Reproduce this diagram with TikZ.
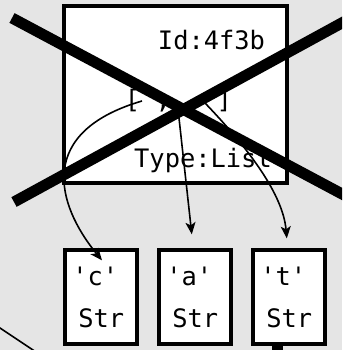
\documentclass[tikz,border=0pt]{standalone}
\usepackage{fontspec}
\setmonofont{DejaVu Sans Mono}
\usetikzlibrary{positioning, arrows.meta, calc}
\definecolor{canvasgray}{HTML}{E5E5E5}

\begin{document}
\begin{tikzpicture}[
  x=1pt, y=-1pt,
  font=\ttfamily\fontsize{25.4}{30}\selectfont,
  objbox/.style={rectangle, draw=black, line width=4pt, fill=white, inner sep=0pt},
  strbox/.style={objbox, minimum width=72pt, minimum height=93.7pt},
  txt/.style={anchor=base, inner sep=0pt},
  ref/.style={-{Stealth[length=12pt, width=10pt, inset=3pt]}, line width=1.6pt},
  cross/.style={line width=11pt, line cap=butt}
]
\useasboundingbox (0,0) rectangle (342,350);
\fill[canvasgray] (0,0) rectangle (342,350);
\clip (0,0) rectangle (342,350);
% list object
\node[objbox, minimum width=223pt, minimum height=176.7pt] (list) at (175.2,94.6) {};
\node[txt] (id) at (211.5,50) {Id:4f3b};
\node[txt] (items) at (178.5,108) {[ , , ]};
\node[txt] (type) at (203,167) {Type:List};
\coordinate (slot1) at (142,101);
\coordinate (slot2) at (178,109);
\coordinate (slot3) at (205,103);
% string objects
\node[strbox] (c) at (101.3,297.2) {};
\node[strbox, right=18pt of c] (a) {};
\node[strbox, right=18pt of a] (t) {};
\foreach \n in {c, a, t} {
  \node[txt] (\n-val) at ($(\n.center)+(-6,-12.2)$) {'\n'};
  \node[txt] (\n-type) at ($(\n.center)+(0,29.8)$) {Str};
}
% references
\draw[ref] (slot1) .. controls (36,132) and (56,204) .. ($(c.north)+(0.7,12)$);
\draw[ref] (slot2) -- ($(a.north)+(-3.5,-14)$);
\draw[ref] (slot3) .. controls (250,150) and (283,195) .. ($(t.north)+(-2.5,-10)$);
% crossed out
\coordinate (xa) at (12,18);
\coordinate (xb) at (350,198.2);
\coordinate (xc) at (14,202);
\coordinate (xd) at (350,18.5);
\draw[cross] (xa) -- (xb);
\draw[cross] (xc) -- (xd);
% cut-off parts
\coordinate (stray1) at (-5,324.7);
\coordinate (stray2) at (40,354.7);
\draw[line width=1.6pt] (stray1) -- (stray2);
\coordinate (stub) at ($(t.south)+(-12,0)$);
\draw[line width=11pt] (stub) -- ++(0,8);
\end{tikzpicture}
\end{document}
